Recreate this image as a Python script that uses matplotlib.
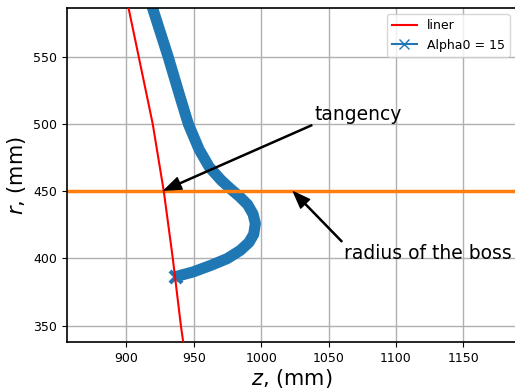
import matplotlib
matplotlib.use("Agg")
import matplotlib.pyplot as plt
from matplotlib.lines import Line2D

# Liner curve (r in mm, z in mm)
liner_r = [600, 586, 550, 500, 450, 400, 350, 338, 330]
liner_z = [898.8, 901.7, 909.2, 919.6, 927.8, 934.5, 940.5, 942.2, 943.2]

# Alpha0 = 15 trajectory
alpha_r = [600, 586, 550, 518, 500, 481, 468, 458, 452, 446, 440, 433, 426, 418,
           412, 406, 400, 395, 390, 386.5]
alpha_z = [914.5, 919.5, 931.0, 940.5, 946.0, 954.0, 961.5, 970.5, 977.0, 984.0,
           990.0, 994.0, 995.7, 994.5, 991.0, 984.5, 975.0, 963.0, 949.5, 936.5]

boss_radius = 450

xticks = [900, 950, 1000, 1050, 1100, 1150]
yticks = [350, 400, 450, 500, 550]

fig = plt.figure(figsize=(5.15, 3.89), dpi=100)
ax = fig.add_axes([0.130, 0.121, 0.872, 0.858])

ax.plot(liner_z, liner_r, color='red', lw=1.5, zorder=3)
ax.plot(alpha_z, alpha_r, color='#1f77b4', lw=8, solid_joinstyle='round',
        solid_capstyle='butt', zorder=2)
ax.plot([alpha_z[-1]], [alpha_r[-1]], marker='x', color='#1f77b4',
        markersize=9, mew=3, zorder=2)
ax.axhline(boss_radius, color='#ff7f0e', lw=2.5, zorder=2.5)

ax.set_xlim(856, 1189)
ax.set_ylim(338, 586)
ax.set_xticks(xticks)
ax.set_yticks(yticks)
ax.tick_params(labelsize=9)
ax.grid(True, color='#b0b0b0', lw=1)
for s in ax.spines.values():
    s.set_linewidth(1.2)

ax.set_xlabel(r'$z$, (mm)', fontsize=15, labelpad=2)
ax.set_ylabel(r'$r$, (mm)', fontsize=15, labelpad=4)

arrow = dict(facecolor='black', edgecolor='black', width=0.8, headwidth=9,
             headlength=12, shrink=0.0)
ax.annotate('tangency', xy=(928.3, 450.8), xytext=(1072, 507),
            fontsize=13.5, ha='center', va='center', arrowprops=arrow)
ax.annotate('radius of the boss', xy=(1024, 449.5), xytext=(1124, 403.5),
            fontsize=13.5, ha='center', va='center', arrowprops=arrow)

handles = [Line2D([], [], color='red', lw=1.5),
           Line2D([], [], color='#1f77b4', lw=1.5, marker='x', markersize=7)]
ax.legend(handles, ['liner', 'Alpha0 = 15'], loc='upper right', fontsize=9)

fig.savefig('out.png', dpi=100)
